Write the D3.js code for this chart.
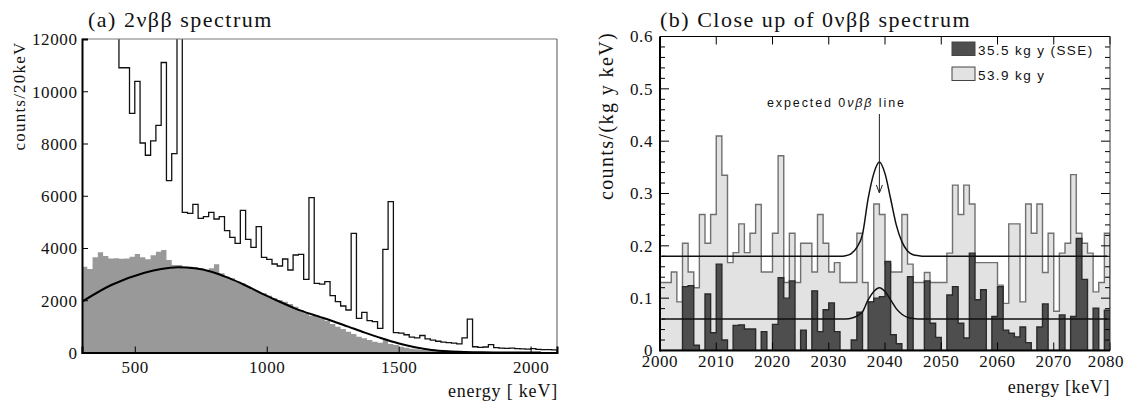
<!DOCTYPE html>
<html><head><meta charset="utf-8">
<script src="https://cdn.jsdelivr.net/npm/d3@7"></script>
<style>
body{margin:0;background:#fff}
</style>
</head><body>
<svg id="c" width="1125" height="403"></svg>
<script>
// ---------- Panel (a): 2nbb spectrum, 20 keV bins from 300 keV ----------
const aBinStart = 300, aBinWidth = 20;
const aTotalCounts = [19000,21000,22000,21000,19000,16000,13500,
 10900,10900,9150,10380,8020,7550,8100,8690,11100,6580,7610,16000,
 5365,5327,5671,5136,5199,5365,5110,5199,4663,4408,4179,5442,4332,4026,4817,3643,3566,3388,3311,3579,3158,3732,3758,2801,5927,2648,
 2620,2711,2175,1946,1780,1627,4561,1308,1538,1218,1180,925,3949,5774,760,740,680,590,560,650,520,470,430,400,380,360,330,560,1280,220,200,210,300,190,170,160,170,150,140,130,150,120,110,110,100];
const aResidualCounts = [3285,3196,3643,3834,3694,3600,3610,3590,3600,3669,3771,3643,3567,3720,3860,3924,3541,3350,3350,3285,3285,3260,3222,3158,3222,3375,3030,2903,2839,2711,2648,2520,2392,2328,2265,2175,2073,2010,1946,1857,1755,1627,1499,1410,
 1435,1308,1218,1091,989,900,798,709,607,543,479,415,376,480,326,287,223,185,147,121,96,83,70,57,45,40,32,30,25,20,15,12,10,8,6,5,4,3,3,2,2,2,1,1,1,1];
const aFitCurve = [[300,1946],[411,2584],[537,3056],[600,3200],[664,3260],[727,3222],[790,3094],[853,2865],[916,2584],[980,2265],[1043,1972],[1106,1691],[1190,1400],[1246,1218],[1309,989],[1372,759],[1435,543],[1498,351],[1562,198],[1625,96],[1688,45],[1751,20],[1814,7],[1900,2],[2039,0]];
const aXTicks = [500,1000,1500,2000];
const aYTicks = [0,2000,4000,6000,8000,10000,12000];

// ---------- Panel (b): close up, 1 keV bins from 2000 keV ----------
const bBinStart = 2000, bBinWidth = 1;
const bAllData = [0.13,0.13,0.15,0.093,0.205,0.15,0.12,0.26,0.205,0.26,
 0.41,0.335,0.168,0.187,0.242,0.187,0.224,0.279,0.15,0.15,
 0.224,0.372,0.13,0.224,0.13,0.205,0.205,0.15,0.26,0.205,
 0.15,0.168,0.13,0.13,0.13,0.224,0.13,0.093,0.28,0.26,
 0.165,0.15,0.15,0.26,0.165,0.13,0.13,0.149,0.13,0.13,
 0.13,0.186,0.316,0.26,0.316,0.28,0.168,0.168,0.168,0.168,
 0.125,0.09,0.242,0.242,0.093,0.28,0.224,0.28,0.149,0.224,
 0.075,0.186,0.205,0.336,0.224,0.205,0.186,0.112,0.13,0.224];
const bSSEData = [0,0,0,0,0.122,0.124,0.01,0,0.108,0.034,
 0.165,0.02,0,0.048,0.049,0.041,0.041,0,0.036,0,
 0.05,0.139,0.1,0.133,0,0.039,0,0.114,0.036,0.078,
 0.091,0.036,0,0,0.02,0.073,0,0.093,0.1,0.103,
 0.17,0.03,0.013,0,0.141,0,0,0.133,0.052,0.025,
 0,0.106,0.122,0.052,0.024,0.186,0.097,0.116,0,0.065,
 0.122,0.039,0.033,0.026,0.045,0.015,0,0.045,0.089,0,
 0,0.068,0,0.065,0.214,0.136,0,0.081,0,0.077];
const bUpperLine = [[2000.3,0.18],[2032,0.18],[2033,0.181],[2034,0.185],[2035,0.197],[2036,0.222],[2037,0.29],[2038,0.338],[2039,0.36],[2040,0.338],[2041,0.29],[2042,0.24],[2043,0.208],[2044,0.19],[2045,0.183],[2046,0.181],[2047,0.18],[2079.5,0.18]];
const bLowerLine = [[2000.3,0.06],[2032,0.06],[2033,0.0603],[2034,0.0617],[2035,0.0657],[2036,0.074],[2037,0.0967],[2038,0.1127],[2039,0.12],[2040,0.1127],[2041,0.0967],[2042,0.08],[2043,0.0693],[2044,0.0633],[2045,0.061],[2046,0.0603],[2047,0.06],[2079.5,0.06]];
const bXTicks = [2000,2010,2020,2030,2040,2050,2060,2070,2080];
const bYTicks = [0,0.1,0.2,0.3,0.4,0.5,0.6];
const bLegend = ["35.5 kg y (SSE)","53.9 kg y"];
const bLineEnergy = 2039;

const SERIF = "'Liberation Serif','DejaVu Serif','Times New Roman',serif";
const SANS = "'Liberation Sans','DejaVu Sans',Arial,sans-serif";
const svg = d3.select("#c");

function stepPoints(vals, start, w){
  const pts = vals.map((v,i)=>[start+i*w, v]);
  pts.push([start+vals.length*w, vals[vals.length-1]]);
  return pts;
}
function serifText(x,y,size,str,ls){
  return svg.append("text").attr("x",x).attr("y",y).attr("font-family",SERIF).attr("font-size",size)
    .attr("letter-spacing",ls||0).attr("fill","#111").text(str);
}

// ===== Panel (a) =====
const aL=82, aR=557, aT=39, aB=352.5;
const xa = d3.scaleLinear().domain([300,2100]).range([aL,aR]);
const ya = d3.scaleLinear().domain([0,12000]).range([aB,aT]);
svg.append("clipPath").attr("id","clipA").append("rect").attr("x",aL).attr("y",aT).attr("width",aR-aL).attr("height",aB-aT);
const gA = svg.append("g").attr("clip-path","url(#clipA)");
const resPts = stepPoints(aResidualCounts,aBinStart,aBinWidth);
gA.append("path").datum(resPts)
  .attr("d", d3.area().curve(d3.curveStepAfter).x(d=>xa(d[0])).y0(ya(0)).y1(d=>ya(d[1])))
  .attr("fill","#999999");
const totPts = [[aBinStart,0]].concat(stepPoints(aTotalCounts,aBinStart,aBinWidth));
totPts.push([aBinStart+aTotalCounts.length*aBinWidth,0]);
gA.append("path").datum(totPts)
  .attr("d", d3.line().curve(d3.curveStepAfter).x(d=>xa(d[0])).y(d=>ya(d[1])))
  .attr("fill","none").attr("stroke","#111").attr("stroke-width",1.3);
gA.append("path").datum(aFitCurve)
  .attr("d", d3.line().curve(d3.curveMonotoneX).x(d=>xa(d[0])).y(d=>ya(d[1])))
  .attr("fill","none").attr("stroke","#000").attr("stroke-width",2);
// frame
svg.append("line").attr("x1",aL).attr("x2",aR).attr("y1",aT).attr("y2",aT).attr("stroke","#777").attr("stroke-width",1);
svg.append("line").attr("x1",aR).attr("x2",aR).attr("y1",aT).attr("y2",aB).attr("stroke","#555").attr("stroke-width",1);
const axA_x = svg.append("g").attr("transform",`translate(0,${aB})`)
  .call(d3.axisBottom(xa).tickValues(aXTicks).tickSize(-6).tickPadding(8.5).tickFormat(d3.format("d")));
const axA_y = svg.append("g").attr("transform",`translate(${aL},0)`)
  .call(d3.axisLeft(ya).tickValues(aYTicks).tickSize(-6).tickPadding(4.5).tickFormat(d3.format("d")));
[axA_x,axA_y].forEach(g=>{
  g.attr("font-family",SERIF).attr("font-size",17).attr("letter-spacing",0.6);
  g.select(".domain").attr("stroke","#000").attr("stroke-width",2);
  g.selectAll(".tick line").attr("stroke","#000").attr("stroke-width",1);
  g.selectAll(".tick text").attr("fill","#111");
});
axA_y.selectAll(".tick text").attr("dy","0.35em");
serifText(88,27,22,"(a) 2νββ spectrum",1.5);
svg.append("text").attr("transform","translate(25,96) rotate(-90)").attr("text-anchor","middle")
  .attr("font-family",SERIF).attr("font-size",17).attr("letter-spacing",1.2).attr("fill","#111").text("counts/20keV");
serifText(558,397,18,"energy [ keV]",0.8).attr("text-anchor","end");

// ===== Panel (b) =====
const bL=660, bR=1110, bT=36.5, bB=350.5;
const xb = d3.scaleLinear().domain([2000,2080]).range([bL,bR]);
const yb = d3.scaleLinear().domain([0,0.6]).range([bB,bT]);
svg.append("clipPath").attr("id","clipB").append("rect").attr("x",bL).attr("y",bT).attr("width",bR-bL).attr("height",bB-bT);
const gB = svg.append("g").attr("clip-path","url(#clipB)");
function histB(vals, fill, stroke){
  const pts = stepPoints(vals,bBinStart,bBinWidth);
  gB.append("path").datum(pts)
    .attr("d", d3.area().curve(d3.curveStepAfter).x(d=>xb(d[0])).y0(yb(0)).y1(d=>yb(d[1])))
    .attr("fill",fill);
  const op = [[bBinStart,0]].concat(pts); op.push([bBinStart+vals.length*bBinWidth,0]);
  gB.append("path").datum(op)
    .attr("d", d3.line().curve(d3.curveStepAfter).x(d=>xb(d[0])).y(d=>yb(d[1])))
    .attr("fill","none").attr("stroke",stroke).attr("stroke-width",1.4);
}
histB(bAllData,"#e2e2e2","#707070");
histB(bSSEData,"#4e4e4e","#2a2a2a");
const lineB = d3.line().curve(d3.curveMonotoneX).x(d=>xb(d[0])).y(d=>yb(d[1]));
gB.append("path").datum(bUpperLine).attr("d",lineB).attr("fill","none").attr("stroke","#111").attr("stroke-width",1.5);
gB.append("path").datum(bLowerLine).attr("d",lineB).attr("fill","none").attr("stroke","#111").attr("stroke-width",1.5);

// axes
const minorY = d3.range(0,0.6001,0.02);
function yAxisTicks(x, dir){
  minorY.forEach(v=>{
    const major = Math.abs(v*10-Math.round(v*10))<1e-6;
    svg.append("line").attr("x1",x).attr("x2",x+dir*(major?9:5)).attr("y1",yb(v)).attr("y2",yb(v)).attr("stroke","#000").attr("stroke-width",1);
  });
}
yAxisTicks(bL,1); yAxisTicks(bR,-1);
bXTicks.forEach(v=>{
  svg.append("line").attr("x1",xb(v)).attr("x2",xb(v)).attr("y1",bT).attr("y2",bT+8).attr("stroke","#000").attr("stroke-width",1);
  svg.append("line").attr("x1",xb(v)).attr("x2",xb(v)).attr("y1",bB).attr("y2",bB-8).attr("stroke","#000").attr("stroke-width",1);
});
svg.append("line").attr("x1",bL).attr("x2",bR).attr("y1",bT).attr("y2",bT).attr("stroke","#000").attr("stroke-width",1.2);
svg.append("line").attr("x1",bR).attr("x2",bR).attr("y1",bT).attr("y2",bB).attr("stroke","#333").attr("stroke-width",1);
svg.append("line").attr("x1",bL).attr("x2",bR).attr("y1",bB).attr("y2",bB).attr("stroke","#000").attr("stroke-width",2);
svg.append("line").attr("x1",bL).attr("x2",bL).attr("y1",bT).attr("y2",bB+1).attr("stroke","#000").attr("stroke-width",2);
bYTicks.forEach(v=>{
  serifText(653,yb(v),17,d3.format(".1f")(v).replace(/^0\.0$/,"0"),0.6).attr("dy","0.35em").attr("text-anchor","end");
});
bXTicks.forEach((v,i)=>{
  const x = i===bXTicks.length-1 ? xb(v)-4 : xb(v);
  serifText(x,366.5,17,String(v),0.6).attr("text-anchor","middle");
});
serifText(660,27,22,"(b) Close up of 0νββ spectrum",1.5);
svg.append("text").attr("transform","translate(613,116) rotate(-90)").attr("text-anchor","middle")
  .attr("font-family",SERIF).attr("font-size",20).attr("letter-spacing",1.4).attr("fill","#111").text("counts/(kg y keV)");
serifText(1110,393,18,"energy [keV]",0.6).attr("text-anchor","end");

// legend
const legCols = ["#4e4e4e","#e2e2e2"];
bLegend.forEach((t,i)=>{
  svg.append("rect").attr("x",952).attr("y",42+i*25).attr("width",23).attr("height",13.5).attr("fill",legCols[i]).attr("stroke","#444").attr("stroke-width",1);
  svg.append("text").attr("font-family",SANS).attr("x",978).attr("y",54.5+i*25).attr("font-size",13.5).attr("letter-spacing",1.4).attr("fill","#111").text(t);
});
// annotation
const ann = svg.append("text").attr("font-family",SANS).attr("x",767).attr("y",107).attr("font-size",12.5).attr("letter-spacing",1.9).attr("fill","#111");
ann.append("tspan").text("expected 0");
ann.append("tspan").attr("font-style","italic").text("νββ");
ann.append("tspan").text(" line");
svg.append("line").attr("x1",xb(bLineEnergy)).attr("x2",xb(bLineEnergy)).attr("y1",114).attr("y2",192).attr("stroke","#222").attr("stroke-width",1);
svg.append("path").attr("d",`M${xb(bLineEnergy)-3},${185} L${xb(bLineEnergy)},${193} L${xb(bLineEnergy)+3},${185}`).attr("fill","none").attr("stroke","#222").attr("stroke-width",1);
</script>
</body></html>
